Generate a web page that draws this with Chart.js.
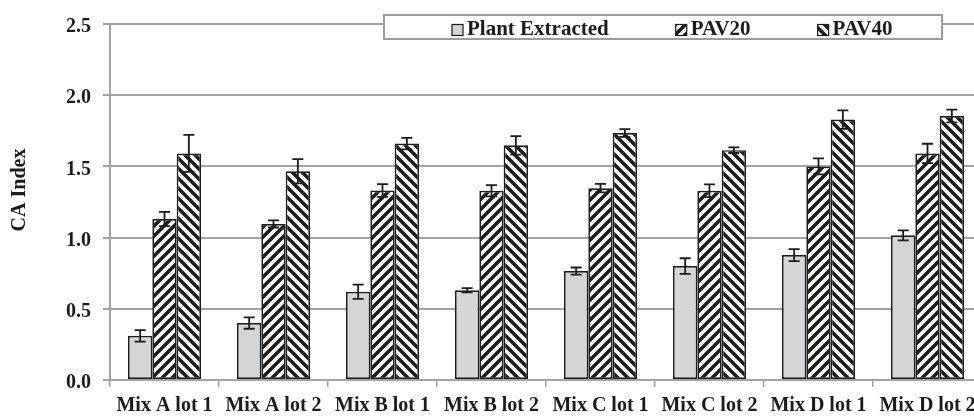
<!DOCTYPE html>
<html>
<head>
<meta charset="utf-8">
<script src="https://cdn.jsdelivr.net/npm/chart.js@4/dist/chart.umd.min.js"></script>
<style>
  html, body { margin: 0; padding: 0; background: #fff; overflow: hidden; }
  canvas { display: block; }
</style>
</head>
<body>
<canvas id="chart" width="992" height="418"></canvas>
<script>
// Samples on the category axis
const categories = ['Mix A lot 1', 'Mix A lot 2', 'Mix B lot 1', 'Mix B lot 2',
                    'Mix C lot 1', 'Mix C lot 2', 'Mix D lot 1', 'Mix D lot 2'];
const seriesNames = ['Plant Extracted', 'PAV20', 'PAV40'];

// CA index means and their error (± half-range)
const plantExtracted = [0.31, 0.40, 0.62, 0.63, 0.765, 0.80, 0.877, 1.016];
const plantErr       = [0.04, 0.04, 0.05, 0.015, 0.025, 0.055, 0.042, 0.035];
const pav20          = [1.13, 1.096, 1.331, 1.329, 1.347, 1.329, 1.50, 1.591];
const pav20Err       = [0.05, 0.025, 0.045, 0.04, 0.03, 0.045, 0.056, 0.068];
const pav40          = [1.591, 1.466, 1.66, 1.648, 1.735, 1.614, 1.829, 1.854];
const pav40Err       = [0.13, 0.085, 0.04, 0.065, 0.027, 0.02, 0.065, 0.045];

const yTickLabels = ['0.0', '0.5', '1.0', '1.5', '2.0', '2.5'];
const yAxisTitle = 'CA Index';

const FONT_FAMILY = '"Liberation Serif", "Times New Roman", serif';
const INK = '#1c1c1c';
const GRID = '#a3a3a3';

// Diagonal hatch tiles: '/' for PAV20, '\' for PAV40
function hatch(direction) {
  const size = 10;
  const c = document.createElement('canvas');
  c.width = size; c.height = size;
  const g = c.getContext('2d');
  g.fillStyle = '#fff';
  g.fillRect(0, 0, size, size);
  g.strokeStyle = INK;
  g.lineWidth = 3.6;
  g.lineCap = 'square';
  g.beginPath();
  if (direction === '/') {
    for (const o of [-size, 0, size]) {
      g.moveTo(o - 2, size + 2); g.lineTo(o + size + 2, -2);
    }
  } else {
    for (const o of [-size, 0, size]) {
      g.moveTo(o - 2, -2); g.lineTo(o + size + 2, size + 2);
    }
  }
  g.stroke();
  return g.createPattern(c, 'repeat');
}

const errors = [plantErr, pav20Err, pav40Err];

// Error bars drawn from each bar's value ± its error through the y scale
const errorBarPlugin = {
  id: 'errorBars',
  afterDatasetsDraw(chart) {
    const ctx = chart.ctx;
    const y = chart.scales.y;
    ctx.save();
    ctx.strokeStyle = INK;
    ctx.lineWidth = 1.8;
    chart.data.datasets.forEach((ds, di) => {
      const meta = chart.getDatasetMeta(di);
      meta.data.forEach((bar, i) => {
        const v = ds.data[i];
        const e = errors[di][i];
        const top = y.getPixelForValue(v + e);
        const bot = y.getPixelForValue(v - e);
        const x = bar.x;
        const cap = 5.5;
        ctx.beginPath();
        ctx.moveTo(x, top); ctx.lineTo(x, bot);
        ctx.moveTo(x - cap, top); ctx.lineTo(x + cap, top);
        ctx.moveTo(x - cap, bot); ctx.lineTo(x + cap, bot);
        ctx.stroke();
      });
    });
    ctx.restore();
  }
};

// Boxed legend across the top of the plot and the rotated y-axis title
const decorPlugin = {
  id: 'decor',
  afterDraw(chart) {
    const ctx = chart.ctx;
    ctx.save();
    // legend box
    ctx.fillStyle = '#fff';
    ctx.fillRect(384, 15, 558, 24);
    ctx.strokeStyle = '#9c9c9c';
    ctx.lineWidth = 2;
    ctx.strokeRect(384, 15, 558, 24);
    ctx.font = 'bold 21px ' + FONT_FAMILY;
    ctx.textBaseline = 'alphabetic';
    ctx.textAlign = 'left';
    let x = 452;
    chart.data.datasets.forEach(ds => {
      ctx.fillStyle = ds.backgroundColor;
      ctx.fillRect(x, 24.5, 11, 11);
      ctx.strokeStyle = INK;
      ctx.lineWidth = 1.2;
      ctx.strokeRect(x, 24.5, 11, 11);
      ctx.fillStyle = INK;
      ctx.fillText(ds.label, x + 15, 35.3);
      x += 15 + ctx.measureText(ds.label).width + 67;
    });
    // y-axis title
    ctx.font = 'bold 20px ' + FONT_FAMILY;
    ctx.translate(19.5, 190);
    ctx.rotate(-Math.PI / 2);
    ctx.textAlign = 'center';
    ctx.textBaseline = 'middle';
    ctx.fillStyle = INK;
    ctx.fillText(yAxisTitle, 0, 0);
    ctx.restore();
  }
};

const barCommon = {
  borderColor: INK,
  borderWidth: 1.7,
  borderSkipped: false,
  categoryPercentage: 0.67,
  barPercentage: 1.0
};

new Chart(document.getElementById('chart'), {
  type: 'bar',
  data: {
    labels: categories,
    datasets: [
      Object.assign({ label: seriesNames[0], data: plantExtracted, backgroundColor: '#d4d5d7' }, barCommon),
      Object.assign({ label: seriesNames[1], data: pav20, backgroundColor: hatch('/') }, barCommon),
      Object.assign({ label: seriesNames[2], data: pav40, backgroundColor: hatch('\\') }, barCommon)
    ]
  },
  options: {
    responsive: false,
    animation: false,
    layout: { padding: { top: 15, right: 10, left: 0, bottom: 0 } },
    plugins: { legend: { display: false }, tooltip: { enabled: false } },
    scales: {
      x: {
        grid: { display: true, drawOnChartArea: false, drawTicks: true, tickLength: 7,
                color: GRID, lineWidth: 1.5, offset: true },
        border: { display: true, color: GRID, width: 2 },
        ticks: { font: { family: FONT_FAMILY, size: 20, weight: 'bold' }, color: INK,
                 padding: 7, maxRotation: 0, autoSkip: false },
        afterFit(s) { s.height = 38; }
      },
      y: {
        min: 0,
        max: 2.5,
        grid: { color: GRID, lineWidth: 2, tickLength: 7 },
        border: { display: true, color: GRID, width: 2 },
        ticks: {
          stepSize: 0.5,
          callback: (v, i) => yTickLabels[i],
          font: { family: FONT_FAMILY, size: 20, weight: 'bold' },
          color: INK,
          padding: 12,
          labelOffset: 3
        },
        afterFit(s) { s.width = 110; }
      }
    }
  },
  plugins: [errorBarPlugin, decorPlugin]
});
</script>
</body>
</html>
